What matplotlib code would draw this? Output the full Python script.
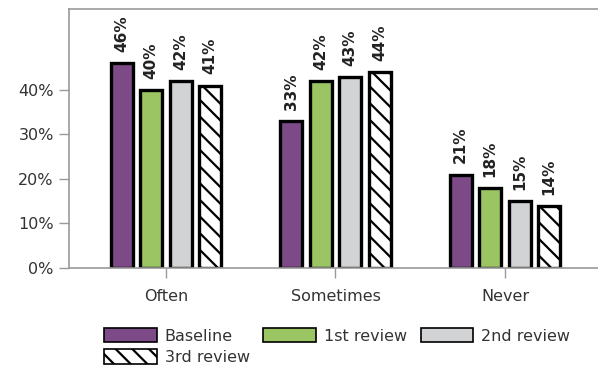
import matplotlib
matplotlib.use("Agg")
import matplotlib.pyplot as plt
import numpy as np

categories = ["Often", "Sometimes", "Never"]
series_names = ["Baseline", "1st review", "2nd review", "3rd review"]
baseline = [46, 33, 21]
review1 = [40, 42, 18]
review2 = [42, 43, 15]
review3 = [41, 44, 14]
yticks = [0, 10, 20, 30, 40]
ytick_labels = ["0%", "10%", "20%", "30%", "40%"]

series = [baseline, review1, review2, review3]
colors = ["#7d4a88", "#9bc563", "#d2d3d5", "white"]
hatches = [None, None, None, "\\\\"]

plt.rcParams["font.family"] = ["DejaVu Sans"]
plt.rcParams["hatch.linewidth"] = 1.6
plt.rcParams["hatch.color"] = "black"

fig = plt.figure(figsize=(5.98, 3.65), dpi=100)
ax = fig.add_axes([69/598, 97/365, 1 - 69/598, (268-9)/365])

x = np.arange(len(categories))
step = 0.174
width = 0.13
handles = []
for i, (name, vals) in enumerate(zip(series_names, series)):
    pos = x + (i - 1.5) * step
    bars = ax.bar(pos, vals, width, color=colors[i], edgecolor="black",
                  linewidth=2.4, hatch=hatches[i], label=name)
    handles.append(bars)
    for b, v in zip(bars, vals):
        ax.annotate(f"{v}%", (b.get_x() + b.get_width()/2, v),
                    xytext=(0, 8), textcoords="offset points",
                    rotation=90, ha="center", va="bottom",
                    fontsize=11, fontweight="bold", color="#222222")

ax.set_xlim(-0.572, 2.549)
ax.set_ylim(0, 58.2)
ax.set_yticks(yticks)
ax.set_yticklabels(ytick_labels)
ax.set_xticks(x)
ax.set_xticklabels(categories)
ax.tick_params(axis="both", colors="#999999", labelcolor="#333333",
               labelsize=11.5, length=7, width=1)
ax.tick_params(axis="x", pad=8)
ax.tick_params(axis="y", pad=4)
for s in ["left", "top", "bottom"]:
    ax.spines[s].set_color("#999999")
    ax.spines[s].set_linewidth(1.2)
ax.spines["right"].set_visible(False)

order = [0, 3, 1, 2]
leg = fig.legend([handles[i] for i in order], [series_names[i] for i in order],
                 loc="upper left", bbox_to_anchor=(104/598, (365-328)/365),
                 ncol=3, frameon=False, fontsize=11.5, handlelength=3.3,
                 handleheight=1.0, handletextpad=0.5, columnspacing=0.85,
                 labelspacing=0.35, borderpad=0, borderaxespad=0)
for h in leg.legend_handles:
    h.set_linewidth(1.2)
for t in leg.get_texts():
    t.set_color("#333333")

fig.savefig("out.png", dpi=100)
